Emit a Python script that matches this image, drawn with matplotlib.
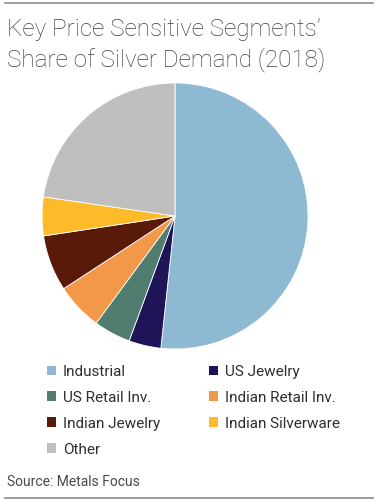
import matplotlib
matplotlib.use('Agg')
import matplotlib.pyplot as plt
from matplotlib.lines import Line2D

# segment shares (%), clockwise from 12 o'clock
labels = ['Industrial', 'US Jewelry', 'US Retail Inv.', 'Indian Retail Inv.',
          'Indian Jewelry', 'Indian Silverware', 'Other']
shares = [51.7, 3.9, 4.5, 5.7, 6.8, 4.7, 22.7]
colors = ['#8DB9D3', '#1F1458', '#507D70', '#F39748',
          '#5A1A0A', '#FDBB2A', '#BFBFBF']

plt.rcParams['font.family'] = ['Roboto', 'DejaVu Sans']

fig = plt.figure(figsize=(3.78, 5.0), dpi=100)

# thin rules top and bottom
fig.add_artist(Line2D([0.013, 0.987], [0.994, 0.994], color='#8C8C8C', lw=1.2))
fig.add_artist(Line2D([0.013, 0.987], [0.005, 0.005], color='#8C8C8C', lw=1.2))

fig.text(0.019, 0.928, "Key Price Sensitive Segments\u2019", fontsize=17.5,
         color='#404040', fontweight='light', va='baseline')
fig.text(0.019, 0.868, "Share of Silver Demand (2018)", fontsize=17.5,
         color='#404040', fontweight='light', va='baseline')

ax = fig.add_axes([0.111, 0.302, 0.704, 0.532])
wedges, _ = ax.pie(shares, colors=colors, startangle=90, counterclock=False,
                   wedgeprops=dict(linewidth=0.6, edgecolor='white'))
ax.set_xlim(-1.0, 1.0)
ax.set_ylim(-1.0, 1.0)
ax.set_aspect('equal')

# legend rows: fill row-wise like the original
order = [0, 2, 4, 6, 1, 3, 5]
leg = fig.legend([wedges[i] for i in order], [labels[i] for i in order],
                 ncol=2, loc='upper left', bbox_to_anchor=(0.088, 0.298),
                 frameon=False, fontsize=11, handlelength=0.6, handleheight=0.6,
                 handletextpad=0.45, columnspacing=3.2, labelspacing=0.78,
                 labelcolor='#2E2E2E')
for h in leg.legend_handles:
    h.set_linewidth(0)

fig.text(0.018, 0.028, "Source: Metals Focus", fontsize=10, color='#4A4A4A',
         va='baseline')

fig.savefig('out.png', dpi=100)
